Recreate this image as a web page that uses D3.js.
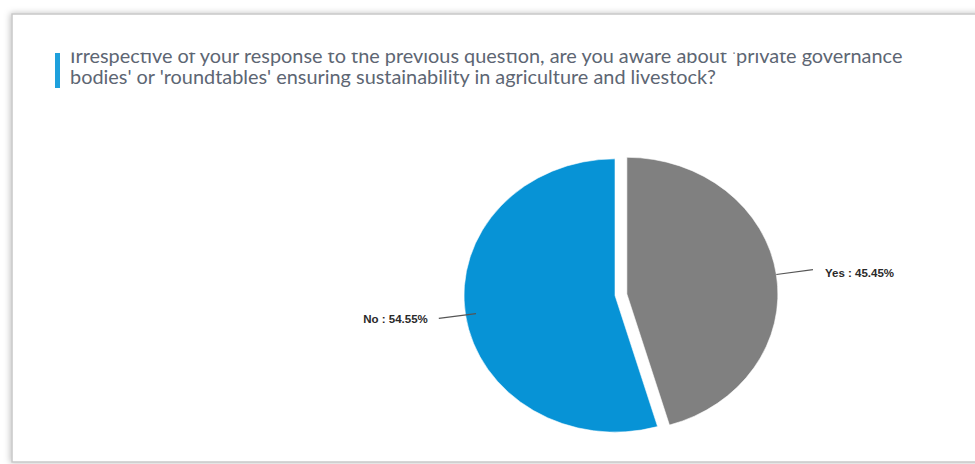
<!DOCTYPE html>
<html><head><meta charset="utf-8">
<script src="https://cdn.jsdelivr.net/npm/d3@7"></script>
<style>html,body{margin:0;padding:0;background:#fff;overflow:hidden}</style>
</head><body>
<svg id="chart" width="975" height="464"></svg>
<script>
const titleLines = ["Irrespective of your response to the previous question, are you aware about 'private governance",
                    "bodies' or 'roundtables' ensuring sustainability in agriculture and livestock?"];
const categories = ["Yes", "No"];
const values = [45.45, 54.55];
const colors = ["#808080", "#0793d6"];

const svg = d3.select("#chart");
const defs = svg.append("defs");
const f = defs.append("filter").attr("id","sh").attr("x","-5%").attr("y","-5%").attr("width","110%").attr("height","110%");
f.append("feDropShadow").attr("dx",-1).attr("dy",0).attr("stdDeviation",3).attr("flood-color","#000").attr("flood-opacity",0.25);

svg.append("rect").attr("x",12).attr("y",14).attr("width",975).attr("height",448)
  .attr("fill","#fff").attr("stroke","#c8c8c8").attr("stroke-width",1.5).attr("filter","url(#sh)");

// title (top of first line is clipped, as in the reference)
defs.append("clipPath").attr("id","tc").append("rect").attr("x",0).attr("y",52.5).attr("width",975).attr("height",60);
svg.append("rect").attr("x",55).attr("y",53).attr("width",5).attr("height",35).attr("fill","#1ea0dc");
const tg = svg.append("g").attr("clip-path","url(#tc)");
const targetW = 833;
titleLines.forEach((t,i)=>{
  tg.append("text").attr("x",70).attr("y",62.5+i*21)
    .attr("font-family","Lato, 'Noto Sans', sans-serif").attr("font-size",16)
    .attr("fill","#5d6673").text(t);
});
const w0 = tg.select("text").node().getComputedTextLength();
tg.selectAll("text").attr("font-size", 16*targetW/w0);

// pie
const cx = 615, cy = 295.5, r = 151, sy = 0.905;
const pie = d3.pie().sort(null).value(d=>d)(values);
const arc = d3.arc().innerRadius(0).outerRadius(r);
const g = svg.append("g").attr("transform",`translate(${cx},${cy}) scale(1,${sy})`);
const explode = [12, 0];
g.selectAll("path").data(pie).join("path")
  .attr("d",arc)
  .attr("fill",(d,i)=>colors[i])
  .attr("stroke","#fff").attr("stroke-width",0.6)
  .attr("transform",(d,i)=>{
    const a=(d.startAngle+d.endAngle)/2;
    return `translate(${explode[i]*Math.sin(a)},${-explode[i]*Math.cos(a)})`;
  });

// leader lines + labels
const pt = (a,rad,ex)=>[cx+(rad+ex)*Math.sin(a), cy-(rad+ex)*Math.cos(a)*sy];
pie.forEach((d,i)=>{
  const a=(d.startAngle+d.endAngle)/2;
  const ex=explode[i];
  const p0 = i===0 ? pt(a,r,ex) : pt(a,r*0.93,ex);
  const p1 = i===0 ? pt(a,r+37,ex) : pt(a,r+27,ex);
  svg.append("line").attr("x1",p0[0]).attr("y1",p0[1]).attr("x2",p1[0]).attr("y2",p1[1])
    .attr("stroke","#555").attr("stroke-width",1.2);
  const right = Math.sin(a)>0;
  svg.append("text").attr("x",p1[0]+(right?12:-11)).attr("y",p1[1]+(right?7:5))
    .attr("text-anchor",right?"start":"end")
    .attr("font-family","Arial, 'Liberation Sans', sans-serif").attr("font-weight","bold")
    .attr("font-size",11.5).attr("fill","#2a2a2a")
    .text(`${categories[i]} : ${values[i].toFixed(2)}%`);
});
</script>
</body></html>
